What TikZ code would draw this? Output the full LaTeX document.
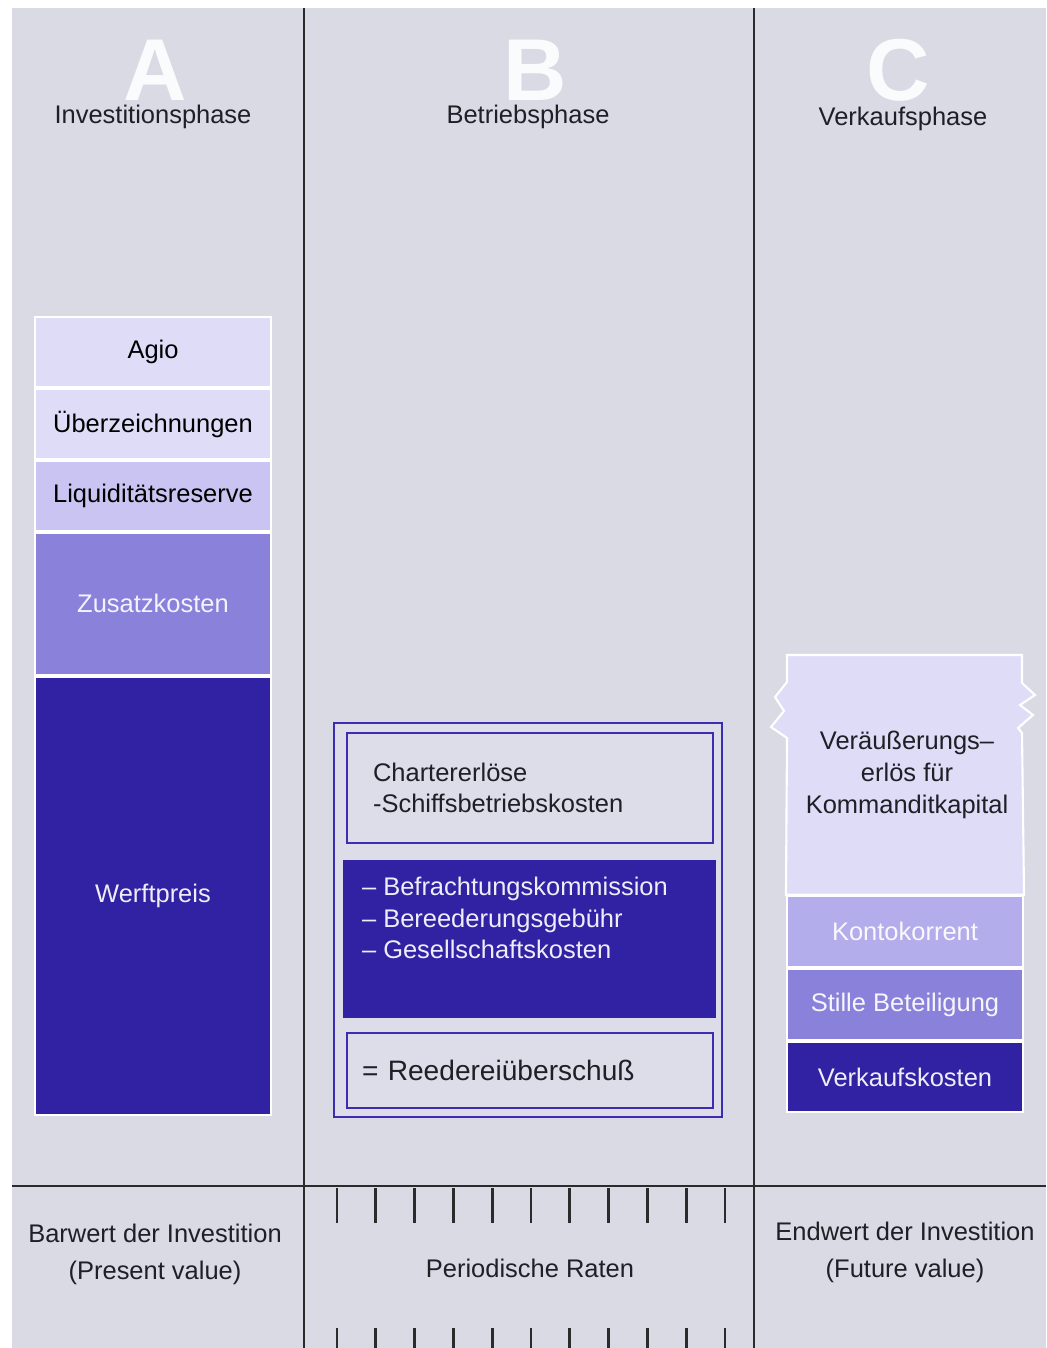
\documentclass[tikz,border=0pt]{standalone}
\usepackage{fontspec}
\setmainfont{Liberation Sans}
\usepackage{xcolor}
\usepackage{tikz}
\usetikzlibrary{positioning,calc}
\definecolor{grund}{HTML}{D9DAE3}
\definecolor{hell}{HTML}{DFDCF8}
\definecolor{mittel}{HTML}{C9C4F1}
\definecolor{kontok}{HTML}{B4ADEB}
\definecolor{lila}{HTML}{8A81DB}
\definecolor{dunkel}{HTML}{3022A2}
\definecolor{linie}{HTML}{3A2DB2}
\definecolor{schrift}{HTML}{1F1F26}
\definecolor{strich}{HTML}{2B2B2E}
\definecolor{kasten}{HTML}{DDDDEA}
\newcommand{\lab}{\fontsize{14.5}{18}\selectfont}
\tikzset{
  phase/.style  ={font=\lab, text=schrift, inner sep=0pt, align=center},
  buchst/.style ={font=\fontsize{50}{50}\selectfont\bfseries, text=white!88!grund, inner sep=0pt},
  blk/.style    ={draw=white, line width=1.2pt, rectangle, inner sep=0pt, align=center, minimum width=4.72cm, font=\lab},
  box/.style    ={draw=linie, line width=1.5pt, rectangle, fill=kasten, inner sep=0pt},
  liste/.style  ={font=\lab, align=left, inner sep=0pt},
  sep/.style    ={draw=strich, line width=1.6pt},
  tick/.style   ={draw=strich, line width=1.5pt},
}
\begin{document}
\begin{tikzpicture}[x=0.02cm, y=-0.02cm]
  \useasboundingbox (0,0) rectangle (1046,1348);
  \fill[grund] (12,8) rectangle (1046,1348);

  \node[buchst] (bA) at (155,70) {A};
  \node[buchst] (bB) at (535,70) {B};
  \node[buchst] (bC) at (898,70) {C};
  \node[phase] (invest) at (153,117) {Investitionsphase};
  \node[phase] (betrieb) at (528,117) {Betriebsphase};
  \node[phase] (verkauf) at (903,119) {Verkaufsphase};

  % Spalte A
  \node[blk, fill=hell, minimum height=1.40cm] (agio) at (153,352) {Agio};
  \node[blk, fill=hell, minimum height=1.40cm, below=0pt of agio] (ueber) {Überzeichnungen};
  \node[blk, fill=mittel, minimum height=1.39cm, below=0pt of ueber] (liqui) {Liquiditätsreserve};
  \node[blk, fill=lila, text=white!90!lila, minimum height=2.84cm, below=0pt of liqui] (zusatz) {Zusatzkosten};
  \node[blk, fill=dunkel, text=white!92!dunkel, minimum height=8.76cm, below=0pt of zusatz] (werft) {Werftpreis};

  % Spalte B
  \node[box, minimum width=7.76cm, minimum height=7.88cm] (rahmen) at (528,920) {};
  \node[box, minimum width=7.32cm, minimum height=2.20cm, text width=6.28cm, inner xsep=0.52cm, liste, text=schrift] (charter) at (530,788) {Chartererlöse\\-Schiffsbetriebskosten\\[4pt]};
  \node[fill=dunkel, minimum width=7.46cm, minimum height=3.16cm, inner sep=0pt] (kostblk) at (529.5,939) {};
  \node[liste, text=white!92!dunkel, anchor=north west] (kosten) at ([xshift=0.38cm, yshift=-0.34cm]kostblk.north west) {– Befrachtungskommission\\– Bereederungsgebühr\\– Gesellschaftskosten};
  \node[box, minimum width=7.32cm, minimum height=1.50cm, text width=6.72cm, inner xsep=0.30cm, liste, font=\fontsize{16}{18}\selectfont, text=schrift] (reederei) at (530,1070.5) {= Reedereiüberschuß\\[-8pt]};

  % Spalte C
  \node[blk, fill=dunkel, text=white!92!dunkel, minimum height=1.40cm] (vkosten) at (905,1077) {Verkaufskosten};
  \node[blk, fill=lila, text=white!92!lila, minimum height=1.42cm, above=0pt of vkosten] (stille) {Stille Beteiligung};
  \node[blk, fill=kontok, text=white!92!kontok, minimum height=1.42cm, above=0pt of stille] (konto) {Kontokorrent};
  \draw[draw=white, line width=1.2pt, fill=hell] (konto.north west) -- (787,738) -- (771,727) -- (784,711) -- (775,697) -- (787,682) -- (787,655)
    -- (1022,655) -- (1022,683) -- (1035,695) -- (1020,705) -- (1033,715) -- (1018,728) -- (1022,733) -- (konto.north east) -- cycle;
  \node[phase] (erloes) at (907,775) {Veräußerungs–\\erlös für\\Kommanditkapital};

  % Linien
  \draw[sep] (304,8) -- (304,1348);
  \draw[sep] (754,8) -- (754,1348);
  \draw[sep] (12,1186) -- (1046,1186);
  \foreach \i in {0,...,10}{
    \draw[tick] ({337+38.8*\i},1188) -- ++(0,35);
    \draw[tick] ({337+38.8*\i},1328) -- ++(0,20);
  }

  \node[phase, font=\fontsize{14.5}{21}\selectfont] (barwert) at (155,1254) {Barwert der Investition\\(Present value)};
  \node[phase] (raten) at (530,1268) {Periodische Raten};
  \node[phase, font=\fontsize{14.5}{21}\selectfont] (endwert) at (905,1252) {Endwert der Investition\\(Future value)};
\end{tikzpicture}
\end{document}
